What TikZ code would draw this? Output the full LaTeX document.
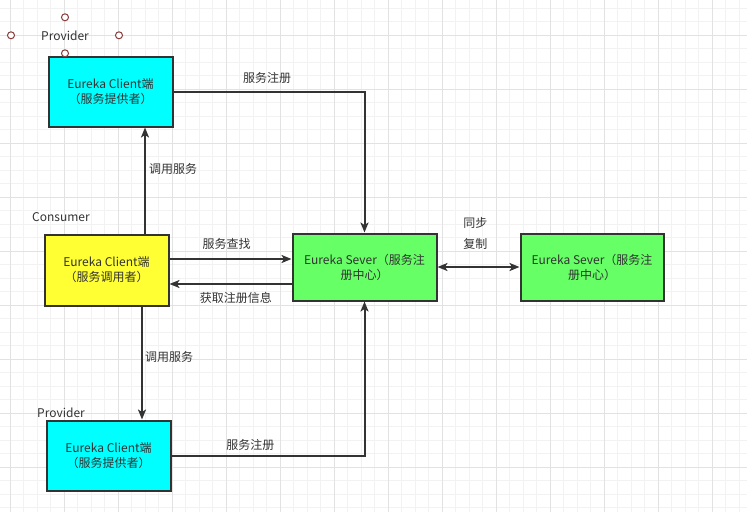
\documentclass[tikz,border=0pt]{standalone}
\usepackage{fontspec}
\newfontfamily\cjk{Noto Sans CJK SC}
\usetikzlibrary{arrows.meta}
\definecolor{ink}{HTML}{333333}
\definecolor{cyanbox}{HTML}{00FFFF}
\definecolor{yellowbox}{HTML}{FFFF33}
\definecolor{greenbox}{HTML}{66FF66}
\definecolor{handle}{HTML}{8B3A3A}
\definecolor{gridminor}{HTML}{F2F2F2}
\definecolor{gridmajor}{HTML}{E2E2E2}
\begin{document}
\begin{tikzpicture}[x=1pt,y=-1pt,
  box/.style={draw=ink, line width=2pt, inner sep=0pt, align=center, font=\cjk\fontsize{12}{15}\selectfont, text=ink},
  lbl/.style={font=\cjk\fontsize{12}{15}\selectfont, text=ink, inner sep=0pt},
  conn/.style={draw=ink, line width=2pt, -{Stealth[length=10pt,width=8pt,inset=2.5pt]}},
  dconn/.style={draw=ink, line width=2pt, {Stealth[length=10pt,width=8pt,inset=2.5pt]}-{Stealth[length=10pt,width=8pt,inset=2.5pt]}},
  hnd/.style={circle, draw=handle, fill=white, line width=1pt, minimum size=7pt, inner sep=0pt},
  gminor/.style={draw=gridminor, line width=1.2pt},
  gmajor/.style={draw=gridmajor, line width=1pt}
]
\useasboundingbox (0,0) rectangle (747,512);
\fill[white] (0,0) rectangle (747,512);
% grid
\foreach \i in {1,...,56} { \draw[gminor] (-3.2+13.5*\i,0) -- (-3.2+13.5*\i,512); }
\foreach \j in {0,...,37} { \draw[gminor] (0,8.3+13.5*\j) -- (747,8.3+13.5*\j); }
\foreach \i in {0,...,13} { \draw[gmajor] (10.3+54*\i,0) -- (10.3+54*\i,512); }
\foreach \j in {0,...,9} { \draw[gmajor] (0,35.3+54*\j) -- (747,35.3+54*\j); }

% boxes
\node[box, fill=cyanbox, minimum width=124pt, minimum height=70pt] (ptop) at (110.5,91.5) {Eureka Client端\\（服务提供者）};
\node[box, fill=yellowbox, minimum width=124pt, minimum height=71pt] (cons) at (106.5,270) {Eureka Client端\\（服务调用者）};
\node[box, fill=greenbox, minimum width=144pt, minimum height=67pt] (srv1) at (364.5,267) {Eureka Sever（服务注\\册中心）};
\node[box, fill=greenbox, minimum width=143pt, minimum height=67pt] (srv2) at (592,267) {Eureka Sever（服务注\\册中心）};
\node[box, fill=cyanbox, minimum width=124pt, minimum height=70pt] (pbot) at (108.5,455.5) {Eureka Client端\\（服务提供者）};

% labels
\node[lbl] (lprov1) at (65,35.5) {Provider};
\node[lbl] (lcons) at (61,217.5) {Consumer};
\node[lbl] (lprov2) at (61,413) {Provider};
\node[lbl] (lreg1) at (267,78) {服务注册};
\node[lbl] (lcall1) at (173,168.5) {调用服务};
\node[lbl] (lfind) at (226.7,244.3) {服务查找};
\node[lbl] (lget) at (235.8,298) {获取注册信息};
\node[lbl] (lsync) at (475.3,222.7) {同步};
\node[lbl] (lcopy) at (475.3,244.3) {复制};
\node[lbl] (lcall2) at (169,357) {调用服务};
\node[lbl] (lreg2) at (250.3,444.5) {服务注册};

% selection handles
\node[hnd] (h1) at (65,17.3) {};
\node[hnd] (h2) at (11,35.3) {};
\node[hnd] (h3) at (119,35.3) {};
\node[hnd] (h4) at (65,53.3) {};

% connectors
\draw[conn] (ptop.east) -| (srv1.north);
\draw[conn] ([xshift=38.5pt]cons.north) -- ([xshift=34.5pt]ptop.south);
\draw[conn] ([xshift=35.5pt]cons.south) -- ([xshift=33.5pt]pbot.north);
\draw[conn] ([yshift=11pt]cons.east) -- ([yshift=8pt]srv1.west);
\draw[conn] ([yshift=-17pt]srv1.west) -- ([yshift=-14pt]cons.east);
\draw[dconn] (srv1.east) -- (srv2.west);
\draw[conn] (pbot.east) -| (srv1.south);
\end{tikzpicture}
\end{document}
